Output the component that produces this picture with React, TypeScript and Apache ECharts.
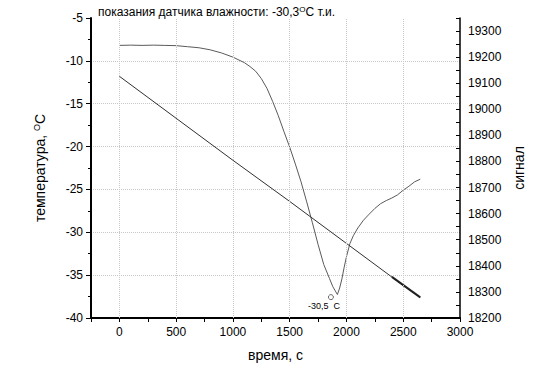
import React, { useEffect, useRef } from 'react';
import * as echarts from 'echarts';

const SIGNAL_TIME = [0, 100, 200, 300, 400, 500, 600, 700, 800, 900, 1000, 1100, 1150, 1200, 1250, 1300, 1350, 1400, 1450, 1500, 1550, 1600, 1650, 1700, 1750, 1800, 1850, 1880, 1920, 1940, 1960, 1980, 2000, 2030, 2060, 2100, 2150, 2200, 2250, 2300, 2350, 2400, 2450, 2500, 2550, 2600, 2650];
const SIGNAL_VALUE = [19245, 19246, 19245, 19246, 19245, 19244, 19240, 19236, 19228, 19216, 19200, 19179, 19164, 19146, 19118, 19080, 19030, 18975, 18914, 18855, 18790, 18722, 18645, 18565, 18482, 18405, 18352, 18320, 18290, 18315, 18350, 18395, 18435, 18485, 18515, 18545, 18575, 18598, 18620, 18638, 18650, 18660, 18672, 18690, 18705, 18722, 18732];

const TEMP_TIME = [0, 500, 1000, 1500, 2000, 2500, 2650];
const TEMP_VALUE = [-11.8, -16.7, -21.6, -26.4, -31.3, -36.2, -37.6];
const TEMP_TAIL_TIME = [2400, 2650];
const TEMP_TAIL_VALUE = [-35.2, -37.6];

const X_GRID = [0, 500, 1000, 1500, 2000, 2500];
const MIN_POINT = [1863, 18280];
const MIN_LABEL = '-30,5';

const TITLE = 'показания датчика влажности: -30,3';
const X_NAME = 'время, с';
const Y_LEFT_NAME = 'температура, ';
const Y_RIGHT_NAME = 'сигнал';

const FONT = '"Liberation Sans", Arial, sans-serif';

export default function App() {
  const ref = useRef<HTMLDivElement>(null);
  useEffect(() => {
    if (!ref.current) return;
    const chart = echarts.init(ref.current, null, { renderer: 'svg' });
    const signal = SIGNAL_TIME.map((t, i) => [t, SIGNAL_VALUE[i]]);
    const temp = TEMP_TIME.map((t, i) => [t, TEMP_VALUE[i]]);
    const tempTail = TEMP_TAIL_TIME.map((t, i) => [t, TEMP_TAIL_VALUE[i]]);
    const sup = { fontSize: 9, verticalAlign: 'top', padding: [0, 0, 6, 0], fontFamily: FONT, color: '#000' };
    chart.setOption({
      animation: false,
      backgroundColor: '#fff',
      textStyle: { fontFamily: FONT },
      title: {
        text: TITLE + '{sup|O}C т.и.',
        left: 93,
        top: 0,
        textStyle: {
          fontSize: 12,
          fontWeight: 'normal',
          color: '#000',
          fontFamily: FONT,
          rich: { sup: { ...sup, fontSize: 8, padding: [0, 0, 5, 0] } },
        },
      },
      grid: { left: 91, right: 90, top: 18, bottom: 56 },
      xAxis: {
        type: 'value',
        min: -250,
        max: 3000,
        interval: 250,
        name: X_NAME,
        nameLocation: 'middle',
        nameGap: 30,
        nameTextStyle: { fontSize: 14, color: '#000', fontFamily: FONT },
        axisLine: { show: true, onZero: false, lineStyle: { color: '#000', width: 2 } },
        axisTick: { show: true, length: 4, lineStyle: { color: '#000', width: 1 } },
        axisLabel: {
          fontSize: 12,
          color: '#000',
          margin: 8,
          fontFamily: FONT,
          formatter: (v: number) => (v % 500 === 0 && v >= 0 ? String(v) : ''),
        },
        splitLine: { show: false },
      },
      yAxis: [
        {
          type: 'value',
          min: -40,
          max: -5,
          interval: 5,
          position: 'left',
          name: Y_LEFT_NAME + '{sup|O}C',
          nameLocation: 'middle',
          nameRotate: 90,
          nameGap: 44,
          nameTextStyle: { fontSize: 14, color: '#000', fontFamily: FONT, rich: { sup } },
          axisLine: { show: true, onZero: false, lineStyle: { color: '#000', width: 2 } },
          axisTick: { show: true, length: 5, lineStyle: { color: '#000', width: 1 } },
          minorTick: { show: true, splitNumber: 2, length: 3, lineStyle: { color: '#000', width: 1 } },
          axisLabel: { fontSize: 12, color: '#000', margin: 8, fontFamily: FONT },
          splitLine: {
            show: true,
            showMinLine: false,
            showMaxLine: false,
            lineStyle: { color: '#c8c8c8', type: 'dotted', width: 1 },
          },
        },
        {
          type: 'value',
          min: 18200,
          max: 19350,
          interval: 50,
          position: 'right',
          name: Y_RIGHT_NAME,
          nameLocation: 'middle',
          nameRotate: 90,
          nameGap: 46,
          nameTextStyle: { fontSize: 14, color: '#000', fontFamily: FONT },
          axisLine: { show: true, onZero: false, lineStyle: { color: '#000', width: 1.5 } },
          axisTick: { show: true, inside: true, length: 4, lineStyle: { color: '#000', width: 1 } },
          axisLabel: {
            fontSize: 12,
            color: '#000',
            margin: 8,
            fontFamily: FONT,
            formatter: (v: number) => (v % 100 === 0 ? String(v) : ''),
          },
          splitLine: { show: false },
        },
      ],
      series: [
        {
          type: 'line',
          yAxisIndex: 0,
          data: temp,
          symbol: 'none',
          lineStyle: { color: '#303030', width: 1 },
          silent: true,
          markLine: {
            silent: true,
            symbol: 'none',
            label: { show: false },
            lineStyle: { color: '#c8c8c8', type: 'dotted', width: 1 },
            data: X_GRID.map((x) => ({ xAxis: x })),
          },
          z: 3,
        },
        {
          type: 'line',
          yAxisIndex: 0,
          data: tempTail,
          symbol: 'none',
          lineStyle: { color: '#202020', width: 2 },
          silent: true,
          z: 3,
        },
        {
          type: 'line',
          yAxisIndex: 1,
          data: signal,
          symbol: 'none',
          lineStyle: { color: '#5a5a5a', width: 1 },
          silent: true,
          z: 2,
          markPoint: {
            silent: true,
            symbol: 'circle',
            symbolSize: 5,
            itemStyle: { color: 'transparent', borderColor: '#666', borderWidth: 1 },
            label: {
              show: true,
              position: 'bottom',
              distance: 1,
              offset: [-7, 0],
              formatter: MIN_LABEL + '  C',
              fontSize: 9,
              color: '#000',
              fontFamily: FONT,
            },
            data: [{ coord: MIN_POINT }],
          },
        },
      ],
    });
    return () => chart.dispose();
  }, []);
  return <div ref={ref} style={{ width: 550, height: 374, position: 'absolute', left: 0, top: 0 }} />;
}
